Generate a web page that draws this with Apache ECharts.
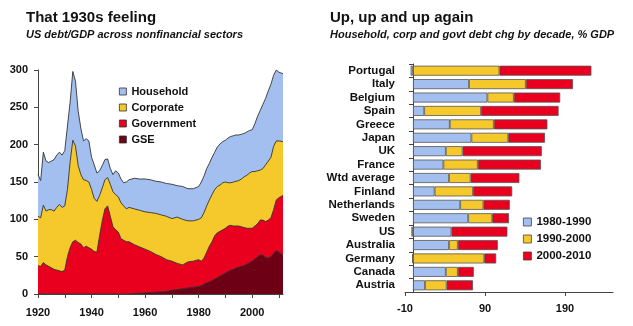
<!DOCTYPE html>
<html>
<head>
<meta charset="utf-8">
<script src="https://cdn.jsdelivr.net/npm/echarts@6/dist/echarts.min.js"></script>
<style>
html,body{margin:0;padding:0;background:#fff;}
#c{width:633px;height:326px;}
</style>
</head>
<body>
<div id="c"></div>
<script>
// ---- Left chart: US debt/GDP by sector (stacked areas) ----
const years = [1920,1921,1922,1923,1924,1925,1926,1927,1928,1929,1930,1931,1932,1933,1934,1935,1936,1937,1938,1939,
  1940,1941,1942,1943,1944,1945,1946,1947,1948,1949,1950,1951,1952,1953,1954,1956,1958,1960,1962,1964,1966,1968,
  1970,1972,1974,1976,1978,1980,1981,1982,1983,1984,1985,1986,1987,1988,1989,1990,1991,1992,1993,1994,1995,1996,
  1997,1998,1999,2000,2001,2002,2003,2004,2005,2006,2007,2008,2009,2010,2011.5];
const gse = [0,0,0,0,0,0,0,0,0,0,0,0,0,0,0,0,0,0,0,0,
  0,0,0,0,0,0,0,0,0,0,0,0,0,0,0,0.5,1,1.5,2,2.5,3,3.5,
  5,6,7,8,9,10,11,13,15,16,18,20,22,24,26,28,30,32,33,35,36,37,
  38,40,42,44,47,50,52,52,49,48,50,54,58,56,52];
const government = [38,37,42,39,37,35,33,32,31,30,32,50,62,70,72,69,67,62,64,62,
  60,57,56,78,98,114,118,104,90,86,83,74,72,70,70,65.5,62,58.5,55,50.5,47,42.5,
  39,35,32,35,35,36,33,35,41,48,52,58,60,60,60,60,61,60,58,56,55,53,
  51,48,46,44,44,44,47,47,48,51,52,59,68,73,80];
const corporate = [66,65,77,72,76,78,78,84,89,86,86,90,115,136,126,103,93,91,88,88,
  80,71,68,54,44,39,38,43,47,47,47,48,46,44,46,48,49,50,52,55,56,58,
  57,62,61,55,54,54,58,61,62,62,63,62,62,62,63,62,58,57,59,60,61,64,
  68,71,74,76,73,71,67,69,76,79,81,85,79,76,72];
const household = [56,50,71,67,63,65,69,70,70,70,74,85,80,92,87,73,62,52,56,55,
  43,45,38,33,30,27,25,21,23,32,32,32,31,36,37,41,42,44,44,43,44,44,
  46,42,44,43,43,44,48,49,50,49,50,50,53,55,55,56,60,62,62,62,61,60,
  58,58,57,56,64,73,80,86,89,94,98,95,95,92,91];

// ---- Right chart: debt change by decade, % GDP ----
const countries = ['Portugal','Italy','Belgium','Spain','Greece','Japan','UK','France','Wtd average',
  'Finland','Netherlands','Sweden','US','Australia','Germany','Canada','Austria'];
const d1980s = [-3,70,93,14,46,73,41,38,45,27,59,69,48,45,-1,41,15];
const d1990s = [108,71,33,71,55,46,21,43,27,48,29,30,-2,11,89,15,27];
const d2000s = [115,59,58,97,67,46,99,79,61,49,33,21,70,50,15,20,33];
const xTicksRight = [-10, 90, 190];

const FONT = 'Liberation Sans, Arial, sans-serif';
const C = {hh:'#a3bff0', corp:'#f5c82c', gov:'#e8001e', gse:'#6e0015',
           b1:'#a3bff0', b2:'#f5c82c', b3:'#e8001e'};

// stack the sector shares (bottom to top: GSE, Government, Corporate, Household)
const layers = [gse, government, corporate, household];
const cumul = [];
layers.forEach((arr, k) => {
  cumul.push(arr.map((v, i) => v + (k > 0 ? cumul[k-1][i] : 0)));
});
function pairs(arr){ return years.map((y,i)=>[y, arr[i]]); }

function areaSeries(name, data, color, z){
  return {
    name, type:'line', xAxisIndex:0, yAxisIndex:0,
    data: pairs(data), showSymbol:false, symbol:'none', smooth:false,
    lineStyle:{color:'#333', width:0.9},
    areaStyle:{color:color, opacity:1, origin:'start'},
    itemStyle:{color:color},
    z: z,
    emphasis:{disabled:true}, animation:false
  };
}
function barSeries(name, data, color){
  return {
    name, type:'bar', stack:'chg', xAxisIndex:1, yAxisIndex:1,
    data, barWidth:10,
    itemStyle:{color:color, borderColor:'#555', borderWidth:0.8},
    emphasis:{disabled:true}, animation:false
  };
}

const chart = echarts.init(document.getElementById('c'), null, {renderer:'canvas'});
chart.setOption({
  backgroundColor:'#fff',
  animation:false,
  textStyle:{fontFamily:FONT},
  title:[
    {text:'That 1930s feeling', subtext:'US debt/GDP across nonfinancial sectors',
     left:26, top:10, padding:0, itemGap:4,
     textStyle:{fontFamily:FONT, fontSize:15, fontWeight:'bold', color:'#111'},
     subtextStyle:{fontFamily:FONT, fontSize:11, fontWeight:'bold', fontStyle:'italic', color:'#111'}},
    {text:'Up, up and up again', subtext:'Household, corp and govt debt chg by decade, % GDP',
     left:330, top:10, padding:0, itemGap:4,
     textStyle:{fontFamily:FONT, fontSize:15, fontWeight:'bold', color:'#111'},
     subtextStyle:{fontFamily:FONT, fontSize:11, fontWeight:'bold', fontStyle:'italic', color:'#111'}}
  ],
  legend:[
    {orient:'vertical', left:119, top:86, padding:0, itemWidth:7, itemHeight:7, itemGap:5, icon:'rect',
     data:[{name:'Household', itemStyle:{color:C.hh,borderColor:'#333',borderWidth:0.8}},
           {name:'Corporate', itemStyle:{color:C.corp,borderColor:'#333',borderWidth:0.8}},
           {name:'Government', itemStyle:{color:C.gov,borderColor:'#333',borderWidth:0.8}},
           {name:'GSE', itemStyle:{color:C.gse,borderColor:'#333',borderWidth:0.8}}],
     textStyle:{fontFamily:FONT, fontSize:11, fontWeight:'bold', color:'#111'},
     selectedMode:false},
    {orient:'vertical', left:523, top:216, padding:0, itemWidth:8, itemHeight:8, itemGap:5, icon:'rect',
     data:[{name:'1980-1990', itemStyle:{color:C.b1,borderColor:'#444',borderWidth:0.8}},
           {name:'1990-2000', itemStyle:{color:C.b2,borderColor:'#444',borderWidth:0.8}},
           {name:'2000-2010', itemStyle:{color:C.b3,borderColor:'#444',borderWidth:0.8}}],
     textStyle:{fontFamily:FONT, fontSize:11.5, fontWeight:'bold', color:'#111'},
     selectedMode:false}
  ],
  grid:[
    {left:38, right:350, top:70, bottom:32, containLabel:false},
    {left:405, right:20, top:64, bottom:34, containLabel:false}
  ],
  xAxis:[
    {type:'value', gridIndex:0, min:1920, max:2011.5, interval:10,
     axisLine:{show:true, lineStyle:{color:'#444', width:1}},
     axisTick:{show:true, length:4, lineStyle:{color:'#444'}},
     splitLine:{show:false},
     axisLabel:{margin:13, fontFamily:FONT, fontSize:11, fontWeight:'bold', color:'#111',
       showMaxLabel:false, formatter:v => (v % 20 === 0 ? String(v) : '')}},
    {type:'value', gridIndex:1, min:-10, max:250, interval:100,
     axisLine:{show:true, onZero:false, lineStyle:{color:'#444', width:1}},
     axisTick:{show:true, length:4, lineStyle:{color:'#444'}},
     splitLine:{show:false},
     axisLabel:{margin:11, fontFamily:FONT, fontSize:11, fontWeight:'bold', color:'#111',
       showMaxLabel:false, formatter:v => (xTicksRight.indexOf(v) >= 0 ? String(v) : '')}}
  ],
  yAxis:[
    {type:'value', gridIndex:0, min:0, max:300, interval:50,
     axisLine:{show:true, lineStyle:{color:'#444', width:1}},
     axisTick:{show:true, length:4, lineStyle:{color:'#444'}},
     splitLine:{show:false},
     axisLabel:{margin:10, fontFamily:FONT, fontSize:11, fontWeight:'bold', color:'#111'}},
    {type:'category', gridIndex:1, data:countries, inverse:true,
     axisLine:{show:true, onZero:true, lineStyle:{color:'#444', width:1}},
     axisTick:{show:true, length:4, lineStyle:{color:'#444'}},
     splitLine:{show:false},
     axisLabel:{interval:0, margin:10, fontFamily:FONT, fontSize:11.5, fontWeight:'bold', color:'#111'}}
  ],
  series:[
    areaSeries('Household', cumul[3], C.hh, 2),
    areaSeries('Corporate', cumul[2], C.corp, 3),
    areaSeries('Government', cumul[1], C.gov, 4),
    areaSeries('GSE', cumul[0], C.gse, 5),
    barSeries('1980-1990', d1980s, C.b1),
    barSeries('1990-2000', d1990s, C.b2),
    barSeries('2000-2010', d2000s, C.b3)
  ]
});
</script>
</body>
</html>
